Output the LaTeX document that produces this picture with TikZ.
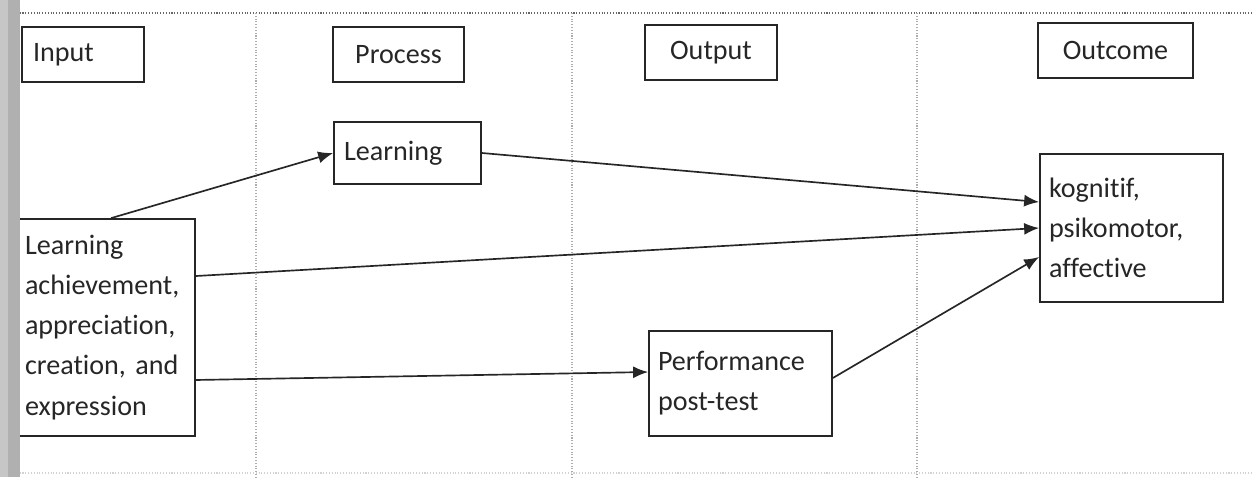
\documentclass[tikz,border=0pt]{standalone}
\usepackage{fontspec}
\setmainfont{Carlito}[Ligatures=NoCommon]
\usetikzlibrary{arrows.meta}

\tikzset{
  box/.style={draw=black!85, line width=1pt, inner sep=0pt, text=black!85,
    font=\fontsize{16}{22.8}\selectfont},
  lbox/.style={box, align=left, inner xsep=0.18cm},
  link/.style={draw=black!85, line width=0.95pt, -{Latex[length=0.3cm,width=0.24cm]}},
  guide/.style={draw=gray!65, densely dotted, line width=0.6pt}
}

\begin{document}
\begin{tikzpicture}[x=0.02cm, y=-0.02cm]
\useasboundingbox (0,0) rectangle (1254,477);

\draw[guide, draw=black!60] (0,13) -- (1254,13);
\draw[guide, draw=gray!35] (0,473) -- (1254,473);
\foreach \x in {256,572,917}
  \draw[guide] (\x,13) -- (\x,477);

% column headings
\node[lbox, inner xsep=0.22cm, text width=2cm, minimum height=1.1cm] (hinput) at (83,54.5) {Input};
\node[box, minimum width=2.62cm, minimum height=1.1cm] (hprocess) at (398.5,54.5) {Process};
\node[box, minimum width=2.64cm, minimum height=1.1cm] (houtput) at (711,52.5) {Output};
\node[box, minimum width=3.1cm, minimum height=1.1cm] (houtcome) at (1115.5,50.5) {Outcome};

% boxes
\node[lbox, inner xsep=0.16cm, text width=3.24cm, minimum height=4.34cm] (input) at (106,327.5)
  {Learning\\achievement,\\appreciation,\\creation, and\\expression};
\node[lbox, inner xsep=0.2cm, text width=2.54cm, minimum height=1.24cm] (learning) at (407.5,153) {Learning};
\node[lbox, text width=3.3cm, minimum height=2.1cm] (perf) at (740.5,383.5) {Performance\\post-test};
\node[lbox, text width=3.3cm, minimum height=2.96cm] (result) at (1131.5,228)
  {kognitif,\\psikomotor,\\affective};

\draw[link] ([xshift=0.1cm]input.north) -- (learning.west);
\draw[link] (learning.east) -- ([yshift=0.52cm]result.west);
\draw[link] ([yshift=1.03cm]input.east) -- (result.west);
\draw[link] ([yshift=-1.05cm]input.east) -- ([yshift=0.23cm]perf.west);
\draw[link] ([yshift=0.11cm]perf.east) -- ([yshift=-0.58cm]result.west);

% binding shadow
\fill[gray!45] (0,0) rectangle (8,477);
\fill[gray!62] (8,0) rectangle (20,477);
\end{tikzpicture}
\end{document}
